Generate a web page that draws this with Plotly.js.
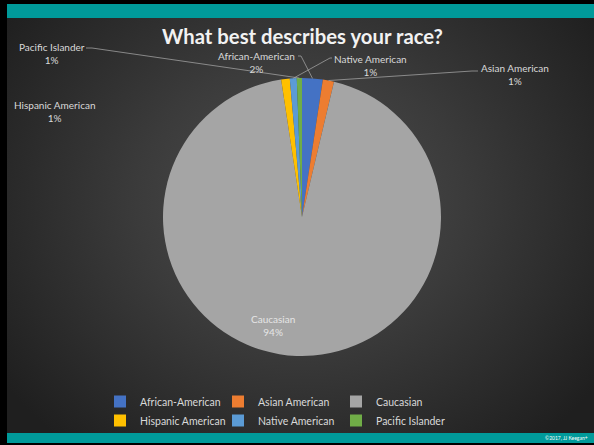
<!DOCTYPE html>
<html>
<head>
<meta charset="utf-8">
<script src="https://cdn.plot.ly/plotly-3.0.1.min.js"></script>
<style>
  html, body { margin:0; padding:0; background:#000; width:594px; height:445px; overflow:hidden; }
  #frame { position:absolute; left:7px; top:4px; width:587px; height:439px;
    background: radial-gradient(ellipse 62% 72% at 50% 45%, #4f4f4f 0%, #3b3b3b 45%, #1f1f1f 100%); }
  #tealTop { position:absolute; left:0; top:0; width:100%; height:14px; background:#009a9a; }
  #tealBot { position:absolute; left:0; bottom:0; width:100%; height:10px; background:#009a9a; }
  #chart { position:absolute; left:0; top:0; width:594px; height:445px; }
</style>
</head>
<body>
<div id="frame"><div id="tealTop"></div><div id="tealBot"></div></div>
<div id="chart"></div>
<script>
// ---- data ----
const categories = ['African-American', 'Asian American', 'Caucasian', 'Hispanic American', 'Native American', 'Pacific Islander'];
const values = [2.4, 1.3, 93.9, 1.0, 0.8, 0.6];
const colors = ['#4472C4', '#ED7D31', '#A5A5A5', '#FFC000', '#5B9BD5', '#70AD47'];
const titleText = 'What best describes your race?';

// ---- layout geometry (pixels) ----
const W = 594, H = 445;
const M = {l: 90, r: 130, t: 0, b: 0};
const plotW = W - M.l - M.r, plotH = H - M.t - M.b;
const pieC = {x: 302, y: 217, r: 139};
const px = x => (x - M.l) / plotW;
const py = y => (H - M.b - y) / plotH;
const FONT = 'Lato, "Open Sans", sans-serif';

// label centre positions and leader anchors (pixels)
const labelPos = {
  'African-American': {x: 256, y: 63, lead: [298, 56, 301, 56]},
  'Asian American':   {x: 515, y: 74, lead: [478, 71, 472, 71]},
  'Caucasian':        {x: 273, y: 325, lead: null, inside: true},
  'Hispanic American':{x: 54,  y: 111, lead: null},
  'Native American':  {x: 370, y: 65, lead: [332, 58, 330, 58]},
  'Pacific Islander': {x: 52,  y: 54, lead: [86, 48, 92, 48]}
};

const total = values.reduce((a, b) => a + b, 0);
const annotations = [];
const shapes = [];
let cum = 0;
categories.forEach((cat, i) => {
  const frac = values[i] / total;
  const mid = (cum + frac / 2) * 2 * Math.PI; // clockwise from 12 o'clock
  cum += frac;
  const p = labelPos[cat];
  const pct = Math.round(frac * 100) + '%';
  annotations.push({
    xref: 'paper', yref: 'paper', x: px(p.x), y: py(p.y),
    xanchor: 'center', yanchor: 'middle', align: 'center', showarrow: false,
    text: cat + '<br>' + pct,
    font: {family: FONT, size: 10, color: p.inside ? '#e6e6e6' : '#d9d9d9'}
  });
  if (p.lead) {
    const tx = pieC.x + pieC.r * Math.sin(mid);
    const ty = pieC.y - pieC.r * Math.cos(mid);
    shapes.push({
      type: 'path', xref: 'paper', yref: 'paper',
      path: 'M' + px(p.lead[0]) + ',' + py(p.lead[1]) + ' L' + px(p.lead[2]) + ',' + py(p.lead[3]) + ' L' + px(tx) + ',' + py(ty),
      line: {color: '#a6a6a6', width: 0.75}
    });
  }
});

annotations.push({
  xref: 'paper', yref: 'paper', x: px(590), y: py(438), xanchor: 'right', yanchor: 'middle',
  showarrow: false, text: '©2017, JJ Keegan+', font: {family: FONT, size: 5, color: '#ffffff'}
});

const trace = {
  type: 'pie',
  labels: categories,
  values: values,
  sort: false,
  direction: 'clockwise',
  rotation: 0,
  textinfo: 'none',
  hoverinfo: 'label+percent',
  marker: {colors: colors, line: {width: 0}},
  domain: {x: [px(pieC.x - pieC.r), px(pieC.x + pieC.r)], y: [py(pieC.y + pieC.r), py(pieC.y - pieC.r)]}
};

const layout = {
  width: W, height: H,
  margin: M,
  paper_bgcolor: 'rgba(0,0,0,0)',
  plot_bgcolor: 'rgba(0,0,0,0)',
  title: {
    text: '<b>' + titleText + '</b>',
    xref: 'container', yref: 'container',
    x: 302.5 / W, y: 1 - 37 / H, xanchor: 'center', yanchor: 'middle',
    font: {family: FONT, size: 20.3, color: '#f2f2f2'}
  },
  showlegend: true,
  legend: {
    orientation: 'h',
    x: px(100), xanchor: 'left',
    y: py(387), yanchor: 'top',
    entrywidth: 73,
    itemwidth: 30,
    traceorder: 'normal',
    font: {family: FONT, size: 10.5, color: '#d9d9d9'},
    bgcolor: 'rgba(0,0,0,0)'
  },
  annotations: annotations,
  shapes: shapes
};

Plotly.newPlot('chart', [trace], layout, {displayModeBar: false, staticPlot: true});
</script>
</body>
</html>
